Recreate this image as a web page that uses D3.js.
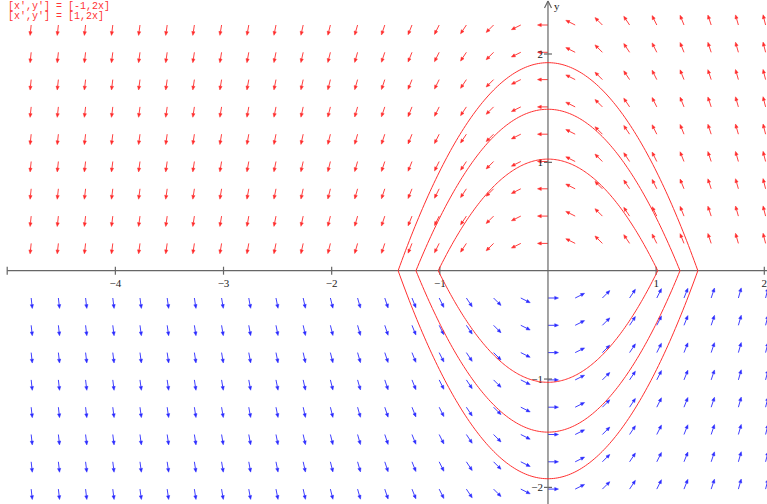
<!DOCTYPE html>
<html>
<head>
<meta charset="utf-8">
<script src="https://cdn.jsdelivr.net/npm/d3@7"></script>
<style>
  body { margin: 0; background: #fff; }
  svg { display: block; }
  .lbl { font-family: "Liberation Serif", "DejaVu Serif", serif; font-size: 11px; fill: #222; }
  .legend { font-family: "Liberation Mono", "DejaVu Sans Mono", monospace; font-size: 10px; fill: #f33; }
</style>
</head>
<body>
<svg width="767" height="504"></svg>
<script>
// legend lines (both systems)
var legendText = ["[x',y'] = [-1,2x]", "[x',y'] = [1,2x]"];

// grid of sample points for the direction field
var gridX = d3.range(-4.75, 2.01, 0.25);
var gridYUpper = [2.25, 2, 1.75, 1.5, 1.25, 1, 0.75, 0.5, 0.25];
var gridYLower = [-0.25, -0.5, -0.75, -1, -1.25, -1.5, -1.75, -2];

// trajectory constants (peak of upper arch / depth of lower bowl)
var trajC = [1.03, 1.49, 1.92];

// axis ticks
var xTicks = [-5, -4, -3, -2, -1, 1, 2];
var xTickLabels = ["", "\u22124", "\u22123", "\u22122", "\u22121", "1", "2"];
var yTicks = [2, 1, -1, -2];
var yTickLabels = ["2", "1", "\u22121", "\u22122"];

var svg = d3.select("svg"),
    width = +svg.attr("width"),
    height = +svg.attr("height");

var x = d3.scaleLinear().domain([-5, 2]).range([7.2, 764.3]);
var y = d3.scaleLinear().domain([0, 2]).range([270.7, 54]);

// the field grid sits on a very slightly wider pixel grid than the ticks
var fx = d3.scaleLinear().domain([0, 1]).range([x(0), x(0) + 108.8]);
var fy = d3.scaleLinear().domain([0, 1]).range([y(0), y(0) - 109.2]);

// vector field: upper half x'=-1, lower half x'=1, y'=2x
function field(px, py) {
    return py > 0 ? [-1, 2 * px] : [1, 2 * px];
}

var arrowLen = 10.5, headLen = 3.8, headW = 1.6;

function arrowPath(px, py) {
    var v = field(px, py);
    var sx = fx(px), sy = fy(py);
    var dx = v[0], dy = -v[1]; // screen y goes down
    var n = Math.sqrt(dx * dx + dy * dy);
    dx /= n; dy /= n;
    var ex = sx + dx * arrowLen, ey = sy + dy * arrowLen;
    var bx = ex - dx * headLen, by = ey - dy * headLen;
    var line = "M" + sx + "," + sy + "L" + bx + "," + by;
    var head = "M" + ex + "," + ey +
        "L" + (bx - dy * headW) + "," + (by + dx * headW) +
        "L" + (bx + dy * headW) + "," + (by - dx * headW) + "Z";
    return { line: line, head: head };
}

function drawField(rows, color) {
    var pts = [];
    rows.forEach(function(gy) {
        gridX.forEach(function(gx) { pts.push([gx, gy]); });
    });
    var g = svg.append("g");
    var a = g.selectAll("g").data(pts).enter().append("g");
    a.append("path")
        .attr("d", function(d) { return arrowPath(d[0], d[1]).line; })
        .attr("stroke", color)
        .attr("stroke-width", 0.9)
        .attr("fill", "none");
    a.append("path")
        .attr("d", function(d) { return arrowPath(d[0], d[1]).head; })
        .attr("fill", color)
        .attr("stroke", color)
        .attr("stroke-width", 0.5);
}

drawField(gridYUpper, "#ff2a2a");
drawField(gridYLower, "#2a2aff");

// axes
var axes = svg.append("g").attr("stroke", "#666").attr("stroke-width", 1.2);
axes.append("line")
    .attr("x1", x(-5)).attr("x2", width)
    .attr("y1", y(0)).attr("y2", y(0));
axes.append("line")
    .attr("x1", x(0)).attr("x2", x(0))
    .attr("y1", height).attr("y2", 2);
axes.append("path")
    .attr("d", "M" + x(0) + ",1L" + (x(0) - 3.5) + ",8M" + x(0) + ",1L" + (x(0) + 3.5) + ",8")
    .attr("fill", "none");

axes.selectAll(".xt").data(xTicks).enter().append("line")
    .attr("x1", function(d) { return x(d); })
    .attr("x2", function(d) { return x(d); })
    .attr("y1", y(0) - 4).attr("y2", y(0) + 4);
axes.selectAll(".yt").data(yTicks).enter().append("line")
    .attr("x1", x(0) - 4).attr("x2", x(0) + 4)
    .attr("y1", function(d) { return y(d); })
    .attr("y2", function(d) { return y(d); });

svg.selectAll(".xl").data(xTicks).enter().append("text")
    .attr("class", "lbl")
    .attr("x", function(d) { return x(d); })
    .attr("y", y(0) + 16)
    .attr("text-anchor", "middle")
    .text(function(d, i) { return xTickLabels[i]; });

svg.selectAll(".yl").data(yTicks).enter().append("text")
    .attr("class", "lbl")
    .attr("x", x(0) - 5)
    .attr("y", function(d) { return y(d) + 4; })
    .attr("text-anchor", "end")
    .text(function(d, i) { return yTickLabels[i]; });

svg.append("text")
    .attr("class", "lbl")
    .attr("x", x(0) + 6)
    .attr("y", 10)
    .text("y");

// trajectories: upper y = C - x^2, lower y = x^2 - C
var curve = d3.line().x(function(d) { return x(d[0]); }).y(function(d) { return y(d[1]); });
var traj = svg.append("g").attr("fill", "none").attr("stroke", "#ff3030").attr("stroke-width", 1);
trajC.forEach(function(c) {
    var r = Math.sqrt(c);
    var xsAll = d3.range(-r, r, r / 80).concat([r]);
    traj.append("path").attr("d", curve(xsAll.map(function(t) { return [t, c - t * t]; })));
    traj.append("path").attr("d", curve(xsAll.map(function(t) { return [t, t * t - c]; })));
});

// legend
svg.selectAll(".leg").data(legendText).enter().append("text")
    .attr("class", "legend")
    .attr("x", 8)
    .attr("y", function(d, i) { return 9 + i * 10; })
    .text(function(d) { return d; });
</script>
</body>
</html>
